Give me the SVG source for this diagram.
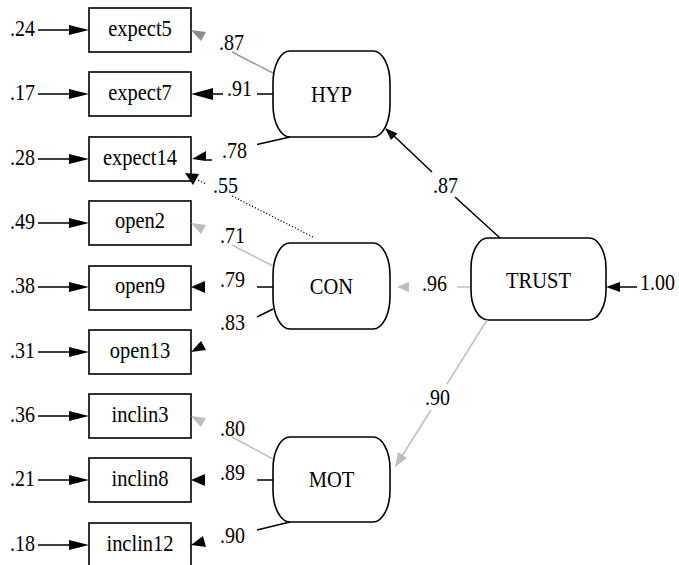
<svg xmlns="http://www.w3.org/2000/svg" width="679" height="565" viewBox="0 0 679 565">
  <style>
    text { font-family: "Liberation Serif", "Times New Roman", serif; font-size: 20px; fill: #000; }
    .name { text-anchor: middle; font-size: 20.5px; }
    .box { fill: #fff; stroke: #000; stroke-width: 1.6; }
    .latent { fill: #fff; stroke: #000; stroke-width: 1.6; }
    .ln { stroke: #000; stroke-width: 1.5; fill: none; }
    .ln-mid { stroke: #999; stroke-width: 1.5; fill: none; }
    .ln-light { stroke: #c0c0c0; stroke-width: 1.5; fill: none; }
    .dot { stroke: #000; stroke-width: 1.2; fill: none; stroke-dasharray: 1.2 2; }
    .head { fill: #000; }
    .head-mid { fill: #8c8c8c; }
    .head-light { fill: #bdbdbd; }
  </style>

  <!-- observed indicators (text is drawn slightly tall: scale 1 x 1.15) -->
  <g id="expect5"><rect class="box" x="89" y="8" width="102" height="44"/><text class="name" transform="translate(140,36) scale(1,1.15)">expect5</text></g>
  <g id="expect7"><rect class="box" x="89" y="72" width="102" height="44"/><text class="name" transform="translate(140,100) scale(1,1.15)">expect7</text></g>
  <g id="expect14"><rect class="box" x="89" y="137" width="102" height="44"/><text class="name" transform="translate(140,165) scale(1,1.15)">expect14</text></g>
  <g id="open2"><rect class="box" x="89" y="201" width="102" height="44"/><text class="name" transform="translate(140,228) scale(1,1.15)">open2</text></g>
  <g id="open9"><rect class="box" x="89" y="266" width="102" height="44"/><text class="name" transform="translate(140,293) scale(1,1.15)">open9</text></g>
  <g id="open13"><rect class="box" x="89" y="330" width="102" height="44"/><text class="name" transform="translate(140,358) scale(1,1.15)">open13</text></g>
  <g id="inclin3"><rect class="box" x="89" y="394" width="102" height="44"/><text class="name" transform="translate(140,422) scale(1,1.15)">inclin3</text></g>
  <g id="inclin8"><rect class="box" x="89" y="458" width="102" height="44"/><text class="name" transform="translate(140,486) scale(1,1.15)">inclin8</text></g>
  <g id="inclin12"><rect class="box" x="89" y="523" width="102" height="44"/><text class="name" transform="translate(140,551) scale(1,1.15)">inclin12</text></g>

  <!-- latent factors -->
  <g id="HYP"><rect class="latent" x="273" y="51" width="117" height="86" rx="17" ry="32"/><text class="name" transform="translate(331.5,102) scale(1,1.15)">HYP</text></g>
  <g id="CON"><rect class="latent" x="273" y="243" width="117" height="86" rx="17" ry="32"/><text class="name" transform="translate(331.5,294) scale(1,1.15)">CON</text></g>
  <g id="MOT"><rect class="latent" x="273" y="437" width="117" height="85" rx="17" ry="32"/><text class="name" transform="translate(331.5,487) scale(1,1.15)">MOT</text></g>
  <g id="TRUST"><rect class="latent" x="471" y="238" width="135" height="82" rx="17" ry="30"/><text class="name" transform="translate(538.5,287.5) scale(1,1.15)">TRUST</text></g>

  <g id="connectors">
    <!-- error variances into the indicators -->
    <g>
      <path class="ln" d="M38,30H71 M38,94H71 M38,159H71 M38,223H71 M38,287H71 M38,352H71 M38,416H71 M38,480H71 M38,545H71"/>
      <path class="head" d="M69,25L89,30L69,35Z M69,89L89,94L69,99Z M69,154L89,159L69,164Z M69,218L89,223L69,228Z M69,282L89,287L69,292Z M69,347L89,352L69,357Z M69,411L89,416L69,421Z M69,475L89,480L69,485Z M69,540L89,545L69,550Z"/>
      <text transform="translate(10,36) scale(1,1.15)">.24</text>
      <text transform="translate(10,100) scale(1,1.15)">.17</text>
      <text transform="translate(10,165) scale(1,1.15)">.28</text>
      <text transform="translate(10,229) scale(1,1.15)">.49</text>
      <text transform="translate(10,293) scale(1,1.15)">.38</text>
      <text transform="translate(10,358) scale(1,1.15)">.31</text>
      <text transform="translate(10,422) scale(1,1.15)">.36</text>
      <text transform="translate(10,486) scale(1,1.15)">.21</text>
      <text transform="translate(10,551) scale(1,1.15)">.18</text>
    </g>

    <!-- HYP loadings -->
    <path class="ln-mid" d="M273,73L232,52"/>
    <path class="head-mid" d="M191,30L206,32L201,41Z"/>
    <text transform="translate(219,50) scale(1,1.15)">.87</text>
    <path class="ln" d="M273,94H257 M223,94H212"/>
    <path class="head" d="M191,94L213,88L213,100Z"/>
    <text transform="translate(227,96) scale(1,1.15)">.91</text>
    <path class="ln" d="M290,137L257,144.5 M206,160H212"/>
    <path class="head" d="M192,159L206,151L206,161Z"/>
    <text transform="translate(222,158) scale(1,1.15)">.78</text>

    <!-- cross-loading CON -> expect14 -->
    <path class="dot" d="M313,237L230,195 M205,183.5L198,180"/>
    <path class="head" d="M185,173L199,174L193,185Z"/>
    <text transform="translate(213,193) scale(1,1.15)">.55</text>

    <!-- CON loadings -->
    <path class="ln-light" d="M273,266L232,245"/>
    <path class="head-light" d="M191,223L206,225L201,234Z"/>
    <text transform="translate(220,243) scale(1,1.15)">.71</text>
    <path class="ln" d="M273,287H257"/>
    <path class="head" d="M191,287L205,281L205,293Z"/>
    <text transform="translate(220,287) scale(1,1.15)">.79</text>
    <path class="ln" d="M273,309L257,317"/>
    <path class="head" d="M191,352L206,350L201,341Z"/>
    <text transform="translate(220,330) scale(1,1.15)">.83</text>

    <!-- MOT loadings -->
    <path class="ln-light" d="M273,459L232,437"/>
    <path class="head-light" d="M191,416L206,418L201,427Z"/>
    <text transform="translate(220,436) scale(1,1.15)">.80</text>
    <path class="ln" d="M273,480H257"/>
    <path class="head" d="M191,480L205,474L205,486Z"/>
    <text transform="translate(220,480) scale(1,1.15)">.89</text>
    <path class="ln" d="M290,522L257,530"/>
    <path class="head" d="M191,545L206,547L203,536Z"/>
    <text transform="translate(220,543) scale(1,1.15)">.90</text>

    <!-- TRUST paths -->
    <path class="ln" d="M500,238L455,197 M432,172L394,136"/>
    <path class="head" d="M385,128L397.5,133.5L391,140Z"/>
    <text transform="translate(433,193) scale(1,1.15)">.87</text>
    <path class="ln-light" d="M470,287H457"/>
    <path class="head-light" d="M397,287L409,282L409,292Z"/>
    <text transform="translate(422,291) scale(1,1.15)">.96</text>
    <path class="ln-light" d="M487,320L447,384 M431,410L402,456"/>
    <path class="head-light" d="M395,467L407,458L398,452Z"/>
    <text transform="translate(425,405) scale(1,1.15)">.90</text>
    <path class="ln" d="M637,287H619"/>
    <path class="head" d="M606,287L620,282L620,292Z"/>
    <text transform="translate(640,290) scale(1,1.15)">1.00</text>
  </g>
</svg>
